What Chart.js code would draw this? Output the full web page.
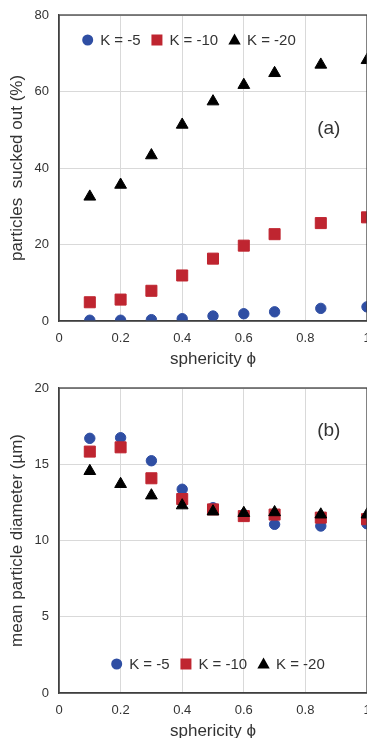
<!DOCTYPE html>
<html>
<head>
<meta charset="utf-8">
<script src="https://cdn.jsdelivr.net/npm/chart.js@4.4.1/dist/chart.umd.min.js"></script>
<style>
  html, body { margin: 0; padding: 0; background: #fff; overflow: hidden; }
  #wrap { position: relative; width: 367px; height: 738px; overflow: hidden; }
  canvas { position: absolute; left: 0; }
  #chartA { top: 0; }
  #chartB { top: 370px; }
</style>
</head>
<body>
<div id="wrap">
  <canvas id="chartA" width="376" height="370"></canvas>
  <canvas id="chartB" width="376" height="372"></canvas>
</div>
<script>
// sphericity values (x) shared by both panels
const sphericity = [0.1, 0.2, 0.3, 0.4, 0.5, 0.6, 0.7, 0.85, 1.0];
const seriesNames = ["K = -5", "K = -10", "K = -20"];

// (a) particles sucked out (%)
const suckedK5 = [0.2, 0.2, 0.35, 0.6, 1.3, 1.9, 2.4, 3.3, 3.7];
const suckedK10 = [4.9, 5.6, 7.9, 11.9, 16.3, 19.7, 22.7, 25.6, 27.1];
const suckedK20 = [32.5, 35.6, 43.3, 51.3, 57.4, 61.7, 64.8, 67.0, 68.2];

// (b) mean particle diameter (µm)
const diamK5 = [16.7, 16.74, 15.23, 13.36, 12.15, 11.7, 11.06, 10.95, 11.1];
const diamK10 = [15.83, 16.11, 14.08, 12.72, 12.04, 11.6, 11.7, 11.5, 11.4];
const diamK20 = [14.55, 13.7, 12.95, 12.3, 11.9, 11.8, 11.85, 11.7, 11.7];

const xTicks = [0, 0.2, 0.4, 0.6, 0.8, 1];

const BLUE = "#2f4ea3";
const RED = "#bf2530";
const BLACK = "#000000";
const TEXT = "#333333";
const GRID = "#d9d9d9";
const AXIS = "#404040";

Chart.defaults.font.family = "'Liberation Sans', Arial, sans-serif";
Chart.defaults.color = TEXT;

function toPoints(values) {
  return sphericity.map((x, i) => ({ x: x, y: values[i] }));
}

function makeDatasets(v5, v10, v20) {
  return [
    { label: seriesNames[0], data: toPoints(v5), pointStyle: "circle", pointRadius: 5.2,
      backgroundColor: BLUE, borderColor: BLUE, borderWidth: 1, order: 3 },
    { label: seriesNames[1], data: toPoints(v10), pointStyle: "rect", pointRadius: 7.8,
      backgroundColor: RED, borderColor: RED, borderWidth: 1, order: 2 },
    { label: seriesNames[2], data: toPoints(v20), pointStyle: "triangle", pointRadius: 6.8,
      backgroundColor: BLACK, borderColor: BLACK, borderWidth: 1, order: 1 }
  ];
}

// legend drawn inside the plot area + panel letter + frame
const insidePlugin = {
  id: "inside",
  afterDraw(chart, args, opts) {
    const ctx = chart.ctx;
    const area = chart.chartArea;
    ctx.save();

    // frame round the plot
    ctx.strokeStyle = AXIS;
    ctx.lineWidth = 1.3;
    ctx.strokeRect(area.left, area.top, area.right - area.left, area.bottom - area.top);

    // panel letter
    ctx.fillStyle = TEXT;
    ctx.font = "19px 'Liberation Sans', Arial, sans-serif";
    ctx.textAlign = "center";
    ctx.textBaseline = "middle";
    ctx.fillText(opts.letter,
      chart.scales.x.getPixelForValue(opts.letterX),
      chart.scales.y.getPixelForValue(opts.letterY));

    // legend
    ctx.font = "15px 'Liberation Sans', Arial, sans-serif";
    ctx.textAlign = "left";
    let x = opts.legendX;
    const y = opts.legendY;
    chart.data.datasets.forEach(ds => {
      ctx.fillStyle = ds.backgroundColor;
      ctx.beginPath();
      if (ds.pointStyle === "circle") {
        ctx.arc(x, y, 5.5, 0, Math.PI * 2);
      } else if (ds.pointStyle === "rect") {
        ctx.rect(x - 5.5, y - 5.5, 11, 11);
      } else {
        ctx.moveTo(x, y - 6.5);
        ctx.lineTo(x + 6.2, y + 4.5);
        ctx.lineTo(x - 6.2, y + 4.5);
        ctx.closePath();
      }
      ctx.fill();
      ctx.fillStyle = TEXT;
      ctx.fillText(ds.label, x + 12.5, y + 0.5);
      x += 12.5 + ctx.measureText(ds.label).width + 16.3;
    });
    ctx.restore();
  }
};

function makeChart(id, datasets, yMax, yStep, yTitle, layout, panel) {
  return new Chart(document.getElementById(id), {
    type: "scatter",
    data: { datasets: datasets },
    plugins: [insidePlugin],
    options: {
      responsive: false,
      animation: false,
      layout: { padding: { left: 0, top: layout.top, right: 9, bottom: 0 } },
      scales: {
        x: {
          type: "linear",
          min: 0, max: 1,
          afterBuildTicks: s => { s.ticks = xTicks.map(v => ({ value: v })); },
          afterFit: s => { s.height = 49; s.paddingLeft = 0; s.paddingRight = 0; },
          ticks: { font: { size: 13 }, color: TEXT, padding: 10, callback: v => String(v) },
          grid: { color: GRID, drawTicks: false, lineWidth: 1 },
          border: { color: AXIS, width: 1.3 },
          title: { display: true, text: "sphericity ϕ", font: { size: 17 }, color: TEXT,
                   padding: { top: 0, bottom: 0 } }
        },
        y: {
          min: 0, max: yMax,
          ticks: { stepSize: yStep, font: { size: 13 }, color: TEXT, padding: 10 },
          afterFit: s => { s.width = 59; s.paddingTop = 0; s.paddingBottom = 0; },
          grid: { color: GRID, drawTicks: false, lineWidth: 1 },
          border: { color: AXIS, width: 1.3 },
          title: { display: true, text: yTitle, font: { size: 17 }, color: TEXT,
                   padding: { top: 7.5, bottom: 0 } }
        }
      },
      plugins: {
        legend: { display: false },
        tooltip: { enabled: false },
        inside: panel
      }
    }
  });
}

makeChart("chartA", makeDatasets(suckedK5, suckedK10, suckedK20), 80, 20,
  "particles  sucked out (%)",
  { top: 15 },
  { letter: "(a)", letterX: 0.876, letterY: 50.2, legendX: 87.7, legendY: 40 });

makeChart("chartB", makeDatasets(diamK5, diamK10, diamK20), 20, 5,
  "mean particle diameter (µm)",
  { top: 18 },
  { letter: "(b)", letterX: 0.876, letterY: 17.2, legendX: 116.7, legendY: 294 });
</script>
</body>
</html>
